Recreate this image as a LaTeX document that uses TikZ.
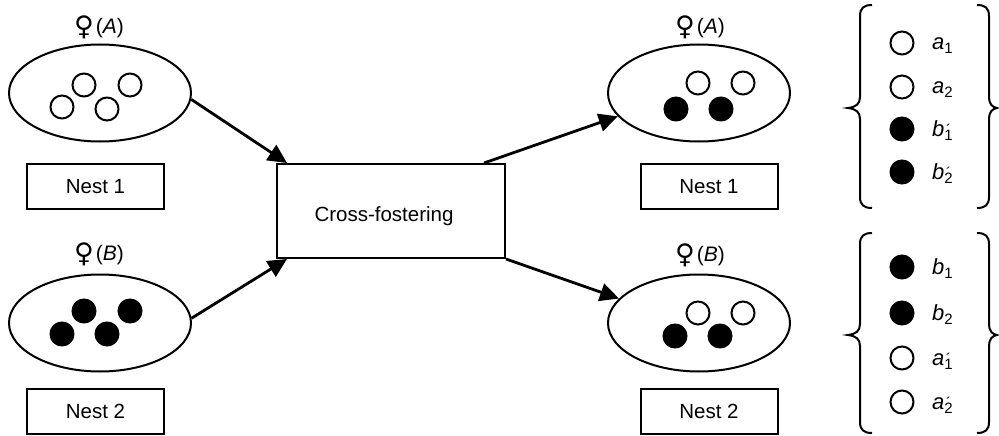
\documentclass[tikz,border=0pt]{standalone}
\usepackage{fontspec}
\setmainfont{Liberation Sans}
\newfontfamily\symfont{DejaVu Sans}
\usetikzlibrary{shapes.geometric,arrows.meta,calc}
\newcommand{\sbs}[1]{\raisebox{-4pt}{\fontsize{15}{15}\selectfont #1}}
\newcommand{\sbp}[1]{\rlap{\kern1pt\raisebox{2pt}{\fontsize{14}{14}\selectfont\itshape ´}}\raisebox{-4pt}{\fontsize{15}{15}\selectfont #1}}
\newcommand{\femlbl}[1]{\raisebox{-2pt}{\symfont\fontsize{27}{28}\selectfont ♀}\kern2pt(\textit{#1})}
\newcommand{\leftbr}[3]{%
  \draw[bracestyle] (872,#1) .. controls (864,#1) and (860,#1+3) .. (860,#1+11)
    -- (860,#2-11) .. controls (860,#2-4) and (856,#2-1) .. (848,#2)
    .. controls (856,#2+1) and (860,#2+4) .. (860,#2+11)
    -- (860,#3-11) .. controls (860,#3-3) and (864,#3) .. (872,#3);}
\newcommand{\rightbr}[3]{%
  \draw[bracestyle] (977,#1) .. controls (985,#1) and (989,#1+3) .. (989,#1+11)
    -- (989,#2-11) .. controls (989,#2-4) and (992,#2-1) .. (997,#2)
    .. controls (992,#2+1) and (989,#2+4) .. (989,#2+11)
    -- (989,#3-11) .. controls (989,#3-3) and (985,#3) .. (977,#3);}
\begin{document}
\begin{tikzpicture}[x=1pt,y=-1pt,
  nestell/.style={ellipse,draw,line width=2pt,minimum width=182pt,minimum height=97pt,inner sep=0pt},
  pup/.style={circle,draw,line width=2pt,minimum size=23pt,inner sep=0pt},
  pupw/.style={pup,fill=white},
  pupb/.style={pup,fill=black},
  nestbox/.style={rectangle,draw,line width=2pt,minimum width=137pt,minimum height=45pt,inner sep=0pt,font=\fontsize{20.5}{24}\selectfont},
  crossbox/.style={rectangle,draw,line width=2pt,minimum width=228pt,minimum height=94pt,inner sep=0pt},
  txt/.style={inner sep=0pt,font=\fontsize{20.5}{24}\selectfont},
  flow/.style={line width=2.8pt,-{Triangle[length=19pt,width=18pt]}},
  mom/.style={inner sep=0pt,font=\fontsize{21}{24}\selectfont},
  lbl/.style={anchor=base west,inner sep=0pt,font=\fontsize{22}{24}\selectfont},
  bracestyle/.style={line width=2pt}
]
\useasboundingbox (0,0) rectangle (999,436);

% ellipses (nests with mothers)
\node[nestell] (eA) at (100,93) {};
\node[nestell] (eB) at (100,323) {};
\node[nestell] (fA) at (699,93) {};
\node[nestell] (fB) at (699,323) {};

% mother labels
\node[mom] (mA) at (99,27) {\femlbl{A}};
\node[mom] (mB) at (99,254) {\femlbl{B}};
\node[mom] (mA2) at (700,27) {\femlbl{A}};
\node[mom] (mB2) at (700,255) {\femlbl{B}};

% pups, left
\node[pupw] (a1) at (62,107) {};
\node[pupw] (a2) at (84,85) {};
\node[pupw] (a3) at (107,109) {};
\node[pupw] (a4) at (130,85) {};
\node[pupb] (b1) at (62,334) {};
\node[pupb] (b2) at (84,311) {};
\node[pupb] (b3) at (107,334) {};
\node[pupb] (b4) at (130,311) {};
% pups, right
\node[pupb] (c1) at (676,109) {};
\node[pupw] (c2) at (698,83) {};
\node[pupb] (c3) at (721,109) {};
\node[pupw] (c4) at (743,83) {};
\node[pupb] (d1) at (675,336) {};
\node[pupw] (d2) at (698,313) {};
\node[pupb] (d3) at (720,336) {};
\node[pupw] (d4) at (743,313) {};

% nest boxes
\node[nestbox] (n1) at (95.5,186.5) {Nest 1};
\node[nestbox] (n2) at (95.5,411.5) {Nest 2};
\node[nestbox] (n3) at (709,186.5) {Nest 1};
\node[nestbox] (n4) at (709,411.5) {Nest 2};

% cross-fostering
\node[crossbox] (cross) at (391,211) {};
\node[txt] (crosstxt) at (384,216) {Cross-fostering};

% arrows
\coordinate (inA) at ($(cross.north west)+(11,0)$);
\coordinate (inB) at ($(cross.south west)+(11,0)$);
\coordinate (outA) at ($(cross.north east)+(-22,0)$);
\draw[flow] (eA.-4) -- (inA);
\draw[flow] (eB.3) -- (inB);
\draw[flow] (outA) -- (fA.196);
\draw[flow] (cross.south east) -- (fB.163);

% braces
\leftbr{5}{108}{208}
\rightbr{5}{108}{208}
\leftbr{233}{335}{433}
\rightbr{233}{335}{433}

% legend group 1
\node[pupw] (g1) at (902,43) {};
\node[pupw] (g2) at (902,87) {};
\node[pupb] (g3) at (902,129) {};
\node[pupb] (g4) at (902,172) {};
\node[lbl] (t1) at (932,50) {\textit{a}\sbs{1}};
\node[lbl] (t2) at (932,94) {\textit{a}\sbs{2}};
\node[lbl] (t3) at (932,136) {\textit{b}\sbp{1}};
\node[lbl] (t4) at (932,179) {\textit{b}\sbp{2}};
% legend group 2
\node[pupb] (h1) at (902,267) {};
\node[pupb] (h2) at (902,313) {};
\node[pupw] (h3) at (902,358) {};
\node[pupw] (h4) at (902,402) {};
\node[lbl] (u1) at (932,274) {\textit{b}\sbs{1}};
\node[lbl] (u2) at (932,320) {\textit{b}\sbs{2}};
\node[lbl] (u3) at (932,365) {\textit{a}\sbp{1}};
\node[lbl] (u4) at (932,409) {\textit{a}\sbp{2}};
\end{tikzpicture}
\end{document}
